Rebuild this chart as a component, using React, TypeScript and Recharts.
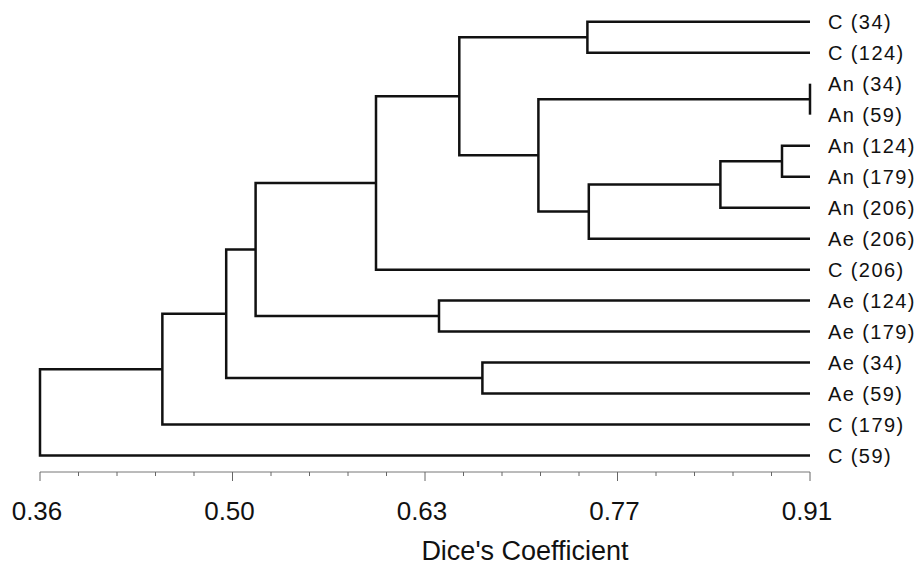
import React from "react";
import { LineChart, Line, XAxis, YAxis } from "recharts";

// Leaves, top to bottom
const leafLabels = [
  "C (34)", "C (124)", "An (34)", "An (59)", "An (124)", "An (179)", "An (206)",
  "Ae (206)", "C (206)", "Ae (124)", "Ae (179)", "Ae (34)", "Ae (59)", "C (179)", "C (59)",
];
// Merge steps: node ids < 15 are leaves, id 15 + k is merge k
const mergeLeft = [0, 2, 4, 17, 18, 16, 15, 21, 9, 11, 22, 25, 26, 27];
const mergeRight = [1, 3, 5, 6, 7, 19, 20, 8, 10, 12, 23, 24, 13, 14];
const mergeSimilarity = [0.751, 0.91, 0.89, 0.846, 0.752, 0.716, 0.6595, 0.6, 0.645, 0.676, 0.514, 0.493, 0.4474, 0.36];
const leafLevel = 0.91;

const majorTicks = [0.36, 0.4975, 0.635, 0.7725, 0.91];
const majorTickLabels = ["0.36", "0.50", "0.63", "0.77", "0.91"];

const allTicks: number[] = [];
for (let i = 0; i < majorTicks.length - 1; i++) {
  const step = (majorTicks[i + 1] - majorTicks[i]) / 5;
  for (let j = 0; j < 5; j++) allTicks.push(majorTicks[i] + step * j);
}
allTicks.push(majorTicks[majorTicks.length - 1]);

// Build the dendrogram branches from the merge table
const nLeaf = leafLabels.length;
const nodeY: number[] = leafLabels.map((_, i) => i);
const nodeX: number[] = leafLabels.map(() => leafLevel);
const branches: { x: number; y: number }[][] = [];
mergeLeft.forEach((a, k) => {
  const b = mergeRight[k];
  const h = mergeSimilarity[k];
  const ya = nodeY[a];
  const yb = nodeY[b];
  branches.push([
    { x: nodeX[a], y: ya },
    { x: h, y: ya },
    { x: h, y: yb },
    { x: nodeX[b], y: yb },
  ]);
  nodeY[nLeaf + k] = (ya + yb) / 2;
  nodeX[nLeaf + k] = h;
});

const XTick = (props: any) => {
  const { x, y, payload } = props;
  const idx = majorTicks.findIndex((t) => Math.abs(t - payload.value) < 1e-6);
  const major = idx >= 0;
  return (
    <g>
      <line x1={x} x2={x} y1={y} y2={y + (major ? 9 : 4)} stroke="#666" strokeWidth={1} />
      {major && (
        <text
          x={x - 3}
          y={y + 48}
          textAnchor="middle"
          fontFamily="'Liberation Sans', Arial, sans-serif"
          fontSize={26}
          fill="#111"
        >
          {majorTickLabels[idx]}
        </text>
      )}
    </g>
  );
};

const Title = (props: any) => {
  const vb = props.viewBox;
  return (
    <text
      x={vb.x + vb.width / 2 + 100}
      y={vb.y + 88}
      textAnchor="middle"
      fontFamily="'Liberation Sans', Arial, sans-serif"
      fontSize={27}
      fill="#111"
    >
      Dice's Coefficient
    </text>
  );
};

export default function App() {
  return (
    <div style={{ width: 914, height: 558 }}>
      <LineChart width={914} height={558} margin={{ top: 13.7, right: 0, bottom: 0, left: 32 }}>
        <XAxis
          type="number"
          dataKey="x"
          domain={[0.36, 0.91]}
          ticks={allTicks}
          interval={0}
          tickSize={0}
          tickMargin={0}
          tickLine={false}
          tick={<XTick />}
          axisLine={{ stroke: "#777", strokeWidth: 1 }}
          height={94}
          label={{ content: <Title /> } as any}
        />
        <YAxis
          type="number"
          orientation="right"
          reversed
          domain={[0, 14.53]}
          ticks={leafLabels.map((_, i) => i)}
          interval={0}
          tickFormatter={(v: number) => leafLabels[v] ?? ""}
          tickSize={0}
          tickMargin={18}
          tickLine={false}
          axisLine={false}
          width={112}
          tick={{
            fill: "#111",
            fontSize: 20,
            fontFamily: "'Liberation Sans', Arial, sans-serif",
            letterSpacing: 1.4,
          }}
        />
        {branches.map((pts, i) => (
          <Line
            key={i}
            data={pts}
            dataKey="y"
            type="linear"
            stroke="#111"
            strokeWidth={2.5}
            dot={false}
            activeDot={false}
            isAnimationActive={false}
          />
        ))}
      </LineChart>
    </div>
  );
}
